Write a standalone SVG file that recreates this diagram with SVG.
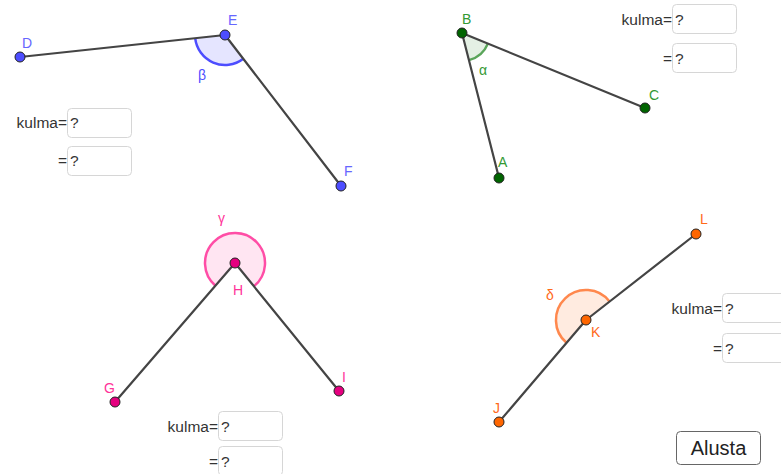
<svg xmlns="http://www.w3.org/2000/svg" width="781" height="474" viewBox="0 0 781 474">
<style>
.seg{stroke:#444;stroke-width:2.2;fill:none;stroke-linecap:round}
.pt{stroke:#222;stroke-width:1}
.lbl{font-family:"Liberation Sans",Arial,sans-serif;font-size:14px}
.klbl{font-family:"Liberation Sans",Arial,sans-serif;font-size:15.5px;fill:#333;text-anchor:end}
.box{fill:#fff;stroke:#d6d6d6;stroke-width:1}
.q{font-family:"Liberation Sans",Arial,sans-serif;font-size:15.5px;fill:#333}
</style>
<rect width="781" height="474" fill="#fff"/>
<g id="sectors">
<path d="M225 35 L243.3 58.8 A30 30 0 0 1 195.2 38.2 Z" fill="#e5e5ff" stroke="none"/>
<path d="M243.3 58.8 A30 30 0 0 1 195.2 38.2" fill="none" stroke="#4d4dff" stroke-width="2.5"/>
<path d="M462 33 L487.9 43.6 A28 28 0 0 1 468.9 60.1 Z" fill="#e4f0e4" stroke="none"/>
<path d="M487.9 43.6 A28 28 0 0 1 468.9 60.1" fill="none" stroke="#5aa55a" stroke-width="2.5"/>
<path d="M235 263 L253.9 286.3 A30 30 0 1 0 215.4 285.7 Z" fill="#ffe5f2" stroke="none"/>
<path d="M253.9 286.3 A30 30 0 1 0 215.4 285.7" fill="none" stroke="#ff4da6" stroke-width="2.5"/>
<path d="M586 320 L609.6 301.5 A30 30 0 1 0 566.5 342.8 Z" fill="#ffebe0" stroke="none"/>
<path d="M609.6 301.5 A30 30 0 1 0 566.5 342.8" fill="none" stroke="#ff884d" stroke-width="2.5"/>
</g>
<g id="connectors">
<line class="seg" x1="20" y1="57" x2="225" y2="35"/>
<line class="seg" x1="225" y1="35" x2="341" y2="186"/>
<line class="seg" x1="462" y1="33" x2="499" y2="178"/>
<line class="seg" x1="462" y1="33" x2="645" y2="108"/>
<line class="seg" x1="235" y1="263" x2="115" y2="402"/>
<line class="seg" x1="235" y1="263" x2="339" y2="391"/>
<line class="seg" x1="586" y1="320" x2="499" y2="422"/>
<line class="seg" x1="586" y1="320" x2="696" y2="234"/>
</g>
<g id="angle-beta">
<g id="D"><circle class="pt" cx="20" cy="57" r="5" fill="#4d4dff"/><text class="lbl" x="22" y="48" fill="#6666ff">D</text></g>
<g id="E"><circle class="pt" cx="225" cy="35" r="5" fill="#4d4dff"/><text class="lbl" x="228" y="25" fill="#6666ff">E</text></g>
<g id="F"><circle class="pt" cx="341" cy="186" r="5" fill="#4d4dff"/><text class="lbl" x="344" y="176" fill="#6666ff">F</text></g>
<text class="lbl" x="198" y="80" fill="#4d4dff">β</text>
</g>
<g id="angle-alpha">
<g id="B"><circle class="pt" cx="462" cy="33" r="5" fill="#006400"/><text class="lbl" x="462" y="24" fill="#339933">B</text></g>
<g id="A"><circle class="pt" cx="499" cy="178" r="5" fill="#006400"/><text class="lbl" x="498" y="167" fill="#339933">A</text></g>
<g id="C"><circle class="pt" cx="645" cy="108" r="5" fill="#006400"/><text class="lbl" x="649" y="100" fill="#339933">C</text></g>
<text class="lbl" x="479" y="75" fill="#339933">α</text>
</g>
<g id="angle-gamma">
<g id="H"><circle class="pt" cx="235" cy="263" r="5" fill="#e5007f"/><text class="lbl" x="233" y="295" fill="#ff3399">H</text></g>
<g id="G"><circle class="pt" cx="115" cy="402" r="5" fill="#e5007f"/><text class="lbl" x="104" y="393" fill="#ff3399">G</text></g>
<g id="I"><circle class="pt" cx="339" cy="391" r="5" fill="#e5007f"/><text class="lbl" x="342" y="382" fill="#ff3399">I</text></g>
<text class="lbl" x="218" y="223" fill="#ff3399">γ</text>
</g>
<g id="angle-delta">
<g id="K"><circle class="pt" cx="586" cy="320" r="5" fill="#ff6600"/><text class="lbl" x="591" y="337" fill="#ff6a1a">K</text></g>
<g id="J"><circle class="pt" cx="499" cy="422" r="5" fill="#ff6600"/><text class="lbl" x="493" y="413" fill="#ff6a1a">J</text></g>
<g id="L"><circle class="pt" cx="696" cy="234" r="5" fill="#ff6600"/><text class="lbl" x="700" y="224" fill="#ff6a1a">L</text></g>
<text class="lbl" x="546" y="300" fill="#ff6a1a">δ</text>
</g>
<g id="inputs-1">
<text class="klbl" x="67" y="128">kulma=</text>
<rect class="box" x="67.5" y="108.5" width="64" height="29" rx="4"/>
<text class="q" x="70" y="128">?</text>
<text class="klbl" x="67" y="166">=</text>
<rect class="box" x="67.5" y="146.5" width="64" height="29" rx="4"/>
<text class="q" x="70" y="166">?</text>
</g>
<g id="inputs-2">
<text class="klbl" x="672" y="25">kulma=</text>
<rect class="box" x="672.5" y="4.5" width="64" height="29" rx="4"/>
<text class="q" x="675" y="25">?</text>
<text class="klbl" x="672" y="64">=</text>
<rect class="box" x="672.5" y="43.5" width="64" height="29" rx="4"/>
<text class="q" x="675" y="64">?</text>
</g>
<g id="inputs-3">
<text class="klbl" x="218" y="432">kulma=</text>
<rect class="box" x="218.5" y="411.5" width="64" height="29" rx="4"/>
<text class="q" x="221" y="432">?</text>
<text class="klbl" x="218" y="467">=</text>
<rect class="box" x="218.5" y="446.5" width="64" height="29" rx="4"/>
<text class="q" x="221" y="467">?</text>
</g>
<g id="inputs-4">
<text class="klbl" x="722" y="314">kulma=</text>
<rect class="box" x="722.5" y="293.5" width="64" height="29" rx="4"/>
<text class="q" x="725" y="314">?</text>
<text class="klbl" x="722" y="354">=</text>
<rect class="box" x="722.5" y="333.5" width="64" height="29" rx="4"/>
<text class="q" x="725" y="354">?</text>
</g>
<g id="button-alusta">
<rect x="676.5" y="431.5" width="84" height="33" rx="4" fill="#fff" stroke="#666" stroke-width="1"/>
<text x="718.5" y="455" font-family="'Liberation Sans',Arial,sans-serif" font-size="20" fill="#222" text-anchor="middle">Alusta</text>
</g>
</svg>
